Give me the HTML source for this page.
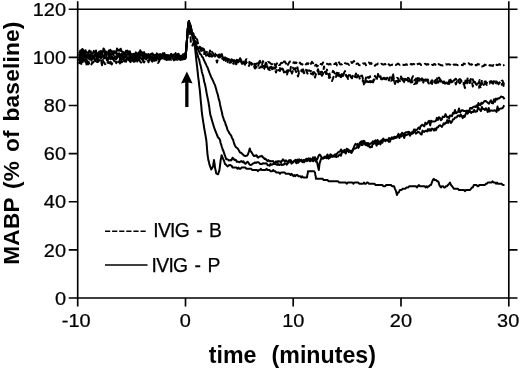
<!DOCTYPE html>
<html><head><meta charset="utf-8"><title>MABP chart</title>
<style>
html,body{margin:0;padding:0;background:#fff;}
body{width:520px;height:370px;overflow:hidden;}
svg{display:block;font-family:"Liberation Sans",Arial,sans-serif;}
.ax path{stroke:#000;stroke-width:1.65;fill:none;}
.cv polyline{stroke:#000;stroke-width:2.0;fill:none;stroke-linejoin:round;}
.tk text{font-size:19.1px;fill:#000;stroke:#000;stroke-width:0.25px;}
.ttl{font-size:22.7px;font-weight:bold;fill:#000;}
.lg text{font-size:19.3px;letter-spacing:-0.7px;word-spacing:2.5px;fill:#000;stroke:#000;stroke-width:0.25px;}
</style></head><body>
<svg width="520" height="370" viewBox="0 0 520 370">
<rect width="520" height="370" fill="#fff"/>
<g class="ax">
<path d="M77.7 1.2V306.5 M508.8 1.2V306.5 M68.7 9.2H517.5 M68.7 298.0H517.5"/>
<path d="M68.7 249.9H77.7 M508.8 249.9H517.5 M68.7 201.7H77.7 M508.8 201.7H517.5 M68.7 153.6H77.7 M508.8 153.6H517.5 M68.7 105.5H77.7 M508.8 105.5H517.5 M68.7 57.3H77.7 M508.8 57.3H517.5 M185.5 1.2V9.2 M185.5 298.0V306.5 M293.2 1.2V9.2 M293.2 298.0V306.5 M401.0 1.2V9.2 M401.0 298.0V306.5"/>
</g>
<g class="cv">
<polyline points="78.8,60.9 79.5,57.8 80.3,57.0 81.0,55.9 81.8,58.8 82.5,54.3 83.3,59.8 84.0,57.2 84.8,58.3 85.5,57.6 86.3,60.3 87.0,55.2 87.8,56.6 88.5,56.9 89.3,59.5 90.0,56.6 90.8,57.2 91.5,56.3 92.3,57.5 93.0,58.7 93.8,56.4 94.5,59.3 95.3,59.7 96.0,59.2 96.8,59.7 97.5,57.3 98.3,57.5 99.0,56.3 99.8,57.0 100.5,58.4 101.3,56.9 102.0,57.0 102.8,56.5 103.5,56.1 104.3,56.3 105.0,57.3 105.8,56.0 106.5,57.6 107.3,60.3 108.0,59.7 108.8,58.1 109.5,56.5 110.3,56.3 111.0,59.9 111.8,58.5 112.5,57.0 113.3,57.8 114.0,60.9 114.8,58.9 115.5,59.0 116.3,58.5 117.0,57.5 117.8,56.0 118.5,56.7 119.3,57.1 120.0,58.4 120.8,59.1 121.5,59.4 122.3,58.6 123.0,59.2 123.8,57.1 124.5,59.3 125.3,58.9 126.0,57.6 126.8,58.3 127.5,57.8 128.3,59.2 129.1,60.2 129.8,61.4 130.6,56.9 131.3,55.5 132.1,56.3 132.8,57.5 133.6,58.7 134.3,58.4 135.1,55.2 135.8,56.5 136.6,58.4 137.3,58.1 138.1,58.7 138.8,57.7 139.6,57.3 140.3,57.8 141.1,58.2 141.8,58.0 142.6,57.8 143.3,56.8 144.1,57.8 144.8,57.8 145.6,59.0 146.3,59.5 147.1,58.3 147.8,57.3 148.6,56.7 149.3,57.8 150.1,57.7 150.8,57.2 151.6,57.5 152.3,56.7 153.1,58.1 153.8,57.1 154.6,58.8 155.3,58.4 156.1,58.4 156.8,56.5 157.6,57.4 158.3,58.3 159.1,56.6 159.8,56.9 160.6,57.3 161.3,55.9 162.1,57.3 162.8,58.3 163.6,56.7 164.3,57.6 165.1,56.0 165.8,57.0 166.6,55.5 167.3,58.1 168.1,58.0 168.8,57.6 169.6,56.6 170.3,58.5 171.1,59.8 171.8,56.1 172.6,58.3 173.3,59.3 174.1,58.3 174.8,56.4 175.6,57.9 176.3,57.3 177.1,56.7 177.8,55.9 178.6,57.5 179.3,58.2 180.1,56.9 180.8,57.7 181.6,56.3 182.3,57.8 183.1,57.5 183.8,57.2 184.6,57.2 185.3,58.1 185.6,57.5 185.8,54.9 186.0,52.3 186.2,49.8 186.4,47.2 186.6,44.6 186.8,42.0 187.0,39.5 187.2,37.0 187.4,34.5 187.6,32.0 187.8,29.5 188.0,27.0 188.4,24.1 188.9,21.3 190.6,30.3 191.3,30.7 192.1,32.4 192.8,33.7 193.7,35.8 194.5,36.5 195.4,37.3 196.3,40.8 197.1,39.4 198.0,44.0 199.0,46.5 200.0,46.9 201.0,48.5 202.0,48.3 203.0,48.5 204.0,52.0 205.0,52.2 206.0,55.1 207.0,57.4 208.0,55.7 209.0,54.6 210.0,56.4 211.0,52.4 212.0,51.7 213.0,53.2 214.0,54.7 215.0,55.2 216.0,55.7 217.0,56.9 218.0,56.5 218.9,57.4 219.9,57.4 220.9,56.4 221.8,55.8 222.8,55.4 223.8,57.6 224.7,57.7 225.7,60.9 226.6,59.9 227.6,62.2 228.6,59.0 229.5,59.6 230.5,58.0 231.5,59.2 232.4,61.2 233.4,60.4 234.4,60.4 235.3,61.5 236.3,64.3 237.2,61.4 238.2,60.2 239.2,60.4 240.1,61.3 241.1,60.9 242.1,62.3 243.0,63.7 244.0,61.5 245.0,64.7 246.0,61.7 247.0,63.0 248.0,63.3 249.0,65.9 250.0,63.4 251.0,63.4 252.0,64.0 253.0,64.9 254.0,63.7 255.0,66.1 256.0,62.9 257.0,62.0 258.0,63.0 259.0,62.2 260.0,60.9 261.0,64.5 262.0,65.1 263.0,61.1 264.0,63.8 265.0,65.2 266.0,62.7 267.0,64.9 268.0,62.0 269.0,62.2 270.0,62.8 271.0,63.9 272.0,64.2 273.0,64.1 274.0,62.6 275.0,65.2 276.0,65.0 277.0,63.4 278.0,62.7 279.0,65.0 280.0,64.9 281.0,62.9 282.0,62.8 283.0,64.5 284.0,61.4 285.0,61.6 286.0,63.6 287.0,62.1 288.0,64.9 289.0,62.7 290.0,61.5 291.0,61.1 292.0,62.6 293.0,62.7 294.0,62.3 295.0,63.2 296.0,62.4 297.0,63.4 298.0,64.2 299.0,64.2 300.0,62.6 301.0,64.2 302.0,64.0 303.0,64.7 304.0,65.1 305.0,63.8 306.0,64.5 307.0,63.2 308.0,64.1 309.0,62.0 310.0,63.7 311.0,63.7 312.0,61.8 313.0,63.3 314.0,62.9 315.0,65.6 316.0,64.6 317.0,66.4 318.0,65.5 319.0,63.5 320.0,63.9 321.0,64.0 322.0,64.7 323.0,62.5 324.0,63.0 325.0,62.8 326.0,63.6 327.0,63.8 328.0,64.1 329.0,64.5 330.0,63.8 331.0,64.5 332.0,63.7 333.0,63.3 334.0,63.9 335.0,64.0 336.0,62.9 337.0,65.4 338.0,63.5 339.0,62.3 340.0,64.2 341.0,64.4 342.0,64.3 343.0,63.5 344.0,62.4 345.0,63.1 346.0,63.5 347.0,63.7 348.0,63.8 349.0,64.9 350.0,63.3 351.0,62.1 352.0,62.9 353.0,62.1 354.0,61.0 355.0,64.0 356.0,64.1 357.0,63.5 358.0,63.5 359.0,65.1 360.0,65.3 361.0,65.2 362.0,64.7 363.0,63.5 364.0,63.7 365.0,63.2 366.0,65.2 367.0,63.7 368.0,63.0 369.0,62.5 370.0,64.0 371.0,62.9 372.0,64.0 373.0,64.3 374.0,64.0 375.0,65.7 376.0,64.4 377.0,64.6 378.0,63.5 379.0,63.4 380.0,64.3 381.0,63.8 382.0,64.0 383.0,64.6 384.0,64.4 385.0,64.0 386.0,64.2 387.0,63.0 388.0,63.6 389.0,64.6 390.0,65.4 391.0,65.1 392.0,64.7 393.0,64.6 394.0,64.0 395.0,64.7 396.0,65.0 397.0,64.3 398.0,63.6 399.0,64.3 400.0,65.0 401.0,64.4 402.0,64.6 403.0,64.7 404.0,65.0 405.0,64.9 406.0,64.2 407.0,64.8 408.0,64.5 409.0,64.5 410.0,65.0 411.0,63.8 412.0,64.6 413.0,64.0 414.0,64.0 415.0,64.9 416.0,65.3 417.0,64.4 418.0,64.0 419.0,63.6 419.9,63.7 420.9,65.0 421.9,64.8 422.9,64.2 423.9,64.4 424.9,63.8 425.9,64.2 426.9,64.8 427.9,64.0 428.9,64.8 429.9,65.5 430.9,65.4 431.9,64.7 432.9,65.1 433.9,64.3 434.9,64.0 435.9,65.5 436.9,64.3 437.9,64.1 438.8,64.3 439.8,64.6 440.8,65.3 441.8,65.3 442.8,65.6 443.8,65.4 444.8,65.1 445.8,64.2 446.8,64.6 447.8,64.3 448.8,64.2 449.8,64.4 450.8,65.6 451.8,65.6 452.8,65.6 453.8,64.5 454.8,64.7 455.8,64.6 456.8,64.8 457.7,65.2 458.7,64.9 459.7,64.9 460.7,65.1 461.7,65.1 462.7,65.3 463.7,63.6 464.7,63.8 465.7,64.3 466.7,64.1 467.7,64.0 468.7,63.2 469.7,64.5 470.7,64.5 471.7,64.2 472.7,65.5 473.7,64.9 474.7,65.3 475.7,65.1 476.6,65.3 477.6,64.0 478.6,64.4 479.6,64.5 480.6,65.1 481.6,66.4 482.6,66.2 483.6,66.1 484.6,64.6 485.6,64.9 486.6,64.8 487.6,64.1 488.6,64.8 489.6,65.4 490.6,65.3 491.6,65.5 492.6,65.9 493.6,65.1 494.6,66.0 495.5,64.9 496.5,64.8 497.5,64.9 498.5,64.7 499.5,64.1 500.5,65.2 501.5,66.0 502.5,65.6 503.5,65.3 504.5,64.9" stroke-dasharray="5.8 2.6"/>
<polyline points="78.8,62.9 79.5,63.2 80.3,60.3 81.0,64.8 81.8,61.2 82.5,61.5 83.3,63.5 84.0,61.6 84.8,61.2 85.5,61.3 86.3,63.4 87.0,66.4 87.8,64.1 88.5,61.8 89.3,63.4 90.0,62.3 90.8,62.7 91.5,64.5 92.3,62.3 93.0,62.7 93.8,61.6 94.5,62.2 95.3,63.0 96.0,61.5 96.8,61.9 97.5,62.1 98.3,61.6 99.0,60.7 99.8,60.1 100.5,61.6 101.3,61.9 102.0,65.3 102.8,60.1 103.5,61.8 104.3,62.7 105.0,64.2 105.8,63.5 106.5,61.5 107.3,62.0 108.0,62.9 108.8,62.0 109.5,63.1 110.3,60.0 111.0,63.7 111.8,64.4 112.5,62.3 113.3,62.9 114.0,62.3 114.8,61.0 115.5,61.7 116.3,63.1 117.0,61.7 117.8,61.3 118.5,61.5 119.3,62.2 120.0,63.4 120.8,61.4 121.5,62.2 122.3,62.0 123.0,59.4 123.8,60.4 124.5,61.0 125.3,61.3 126.0,61.8 126.8,59.0 127.5,60.7 128.3,60.3 129.1,59.3 129.8,61.3 130.6,62.1 131.3,60.7 132.1,62.0 132.8,60.9 133.6,61.1 134.3,59.8 135.1,62.5 135.8,58.3 136.6,60.1 137.3,61.5 138.1,58.7 138.8,60.0 139.6,60.5 140.3,61.7 141.1,62.5 141.8,60.8 142.6,59.1 143.3,61.8 144.1,62.4 144.8,60.6 145.6,61.0 146.3,61.1 147.1,61.3 147.8,60.9 148.6,62.2 149.3,59.0 150.1,61.1 150.8,61.0 151.6,60.3 152.3,61.6 153.1,58.1 153.8,60.8 154.6,60.8 155.3,59.1 156.1,60.3 156.8,59.8 157.6,62.8 158.3,62.8 159.1,61.3 159.8,59.6 160.6,59.2 161.3,59.3 162.1,59.1 162.8,58.6 163.6,58.8 164.3,59.2 165.1,59.0 165.8,58.7 166.6,58.4 167.3,61.9 168.1,58.7 168.8,58.3 169.6,59.6 170.3,59.2 171.1,59.8 171.8,60.3 172.6,60.9 173.3,60.6 174.1,58.7 174.8,60.2 175.6,57.8 176.3,58.7 177.1,58.5 177.8,57.9 178.6,59.3 179.3,59.0 180.1,60.0 180.8,57.9 181.6,59.5 182.3,59.6 183.1,59.2 183.8,57.6 184.6,58.2 185.3,57.2 185.6,57.5 185.8,54.9 186.0,52.3 186.2,49.8 186.4,47.2 186.6,44.6 186.8,42.0 187.0,39.5 187.2,37.0 187.4,34.5 187.6,32.0 187.8,29.5 188.0,27.0 188.4,24.1 188.9,21.3 190.0,32.7 190.2,34.9 190.4,37.5 190.6,37.2 190.8,41.8 191.0,43.2 191.3,43.7 191.5,44.6 192.4,45.6 193.3,43.2 194.2,47.2 195.1,47.6 196.0,47.3 197.0,46.5 198.0,47.2 199.0,50.0 200.0,47.3 201.0,49.5 202.0,49.8 203.0,51.1 204.0,54.0 205.0,54.0 206.0,52.2 207.0,51.9 208.0,54.3 209.0,54.3 210.0,50.5 211.0,53.6 212.0,55.6 213.0,55.5 214.0,55.2 215.0,56.2 216.0,57.9 217.0,62.5 218.0,58.3 218.9,57.4 219.9,54.5 220.9,58.8 221.8,59.0 222.8,57.6 223.8,60.1 224.7,56.9 225.7,59.6 226.6,58.6 227.6,61.9 228.6,62.0 229.5,62.7 230.5,61.3 231.5,59.3 232.4,62.2 233.4,63.8 234.4,61.0 235.3,59.2 236.3,61.6 237.2,61.7 238.2,62.3 239.2,60.6 240.1,63.5 241.1,60.8 242.1,64.5 243.0,63.2 244.0,63.0 245.0,62.9 246.0,59.5 247.0,59.3 248.0,59.8 249.0,61.4 250.0,63.1 251.0,63.1 252.0,63.4 253.0,65.3 254.0,67.0 255.0,66.1 256.0,63.7 257.0,63.4 258.0,66.6 259.0,63.1 260.0,62.5 261.0,64.9 262.0,66.6 263.0,65.9 264.0,66.2 265.0,67.2 266.0,65.7 267.0,65.0 268.0,68.8 269.0,69.8 270.0,69.9 271.0,66.7 272.0,67.3 273.0,68.6 274.0,67.3 275.0,69.1 276.0,72.6 277.0,69.1 278.0,68.6 279.0,68.9 280.0,68.1 281.0,69.1 282.0,68.5 283.0,69.6 284.0,69.4 285.0,72.0 286.0,72.3 287.0,70.4 288.0,70.2 289.0,71.5 290.0,72.5 291.0,65.8 292.0,67.8 293.0,67.8 294.0,69.5 295.0,69.1 296.0,68.0 297.0,65.9 298.0,69.8 299.0,72.0 300.0,70.7 301.0,71.1 302.0,69.8 303.0,69.4 304.0,72.2 305.0,72.2 306.0,69.9 307.0,72.5 308.0,74.7 309.0,73.7 310.0,73.6 311.0,73.6 312.0,74.1 313.0,72.3 314.0,74.7 315.0,77.5 316.0,73.9 317.0,72.5 318.0,69.2 319.0,72.3 320.0,72.1 321.0,72.9 322.0,75.8 323.0,74.1 324.0,66.4 325.0,71.8 326.0,72.3 327.0,69.6 328.0,72.5 329.0,76.3 330.0,77.2 331.0,79.0 332.0,81.0 333.0,78.4 334.0,75.4 335.0,76.6 336.0,77.0 337.0,71.4 338.0,75.7 339.0,72.0 340.0,76.3 341.0,77.2 342.0,76.0 343.0,77.2 344.0,73.0 345.0,71.1 346.0,75.6 347.0,76.9 348.0,76.8 349.0,75.0 350.0,74.7 351.0,76.2 352.0,78.3 353.0,74.4 354.0,75.5 355.0,77.0 356.0,73.6 357.0,72.4 358.0,75.7 359.0,76.4 360.0,79.6 361.0,80.5 362.0,80.8 363.0,80.2 364.0,84.4 365.0,82.1 366.0,77.6 367.0,78.0 368.0,82.0 369.0,81.9 370.0,81.0 371.0,83.4 372.0,81.4 373.0,82.4 374.0,79.4 375.0,80.0 376.0,80.8 377.0,77.7 378.0,74.7 379.0,73.8 380.0,74.6 381.0,79.0 382.0,78.2 383.0,79.1 384.0,77.6 385.0,78.1 386.0,79.4 387.0,77.7 388.0,78.0 389.0,78.3 390.0,77.5 391.0,77.7 392.0,79.2 393.0,73.3 394.0,79.9 395.0,84.0 396.0,80.9 397.0,77.9 398.0,78.3 399.0,80.4 400.0,81.2 401.0,76.4 402.0,78.6 403.0,78.8 404.0,82.3 405.0,78.7 406.0,80.4 407.0,78.3 408.0,77.8 409.0,78.5 410.0,81.0 411.0,82.6 412.0,78.1 413.0,76.2 414.0,76.5 415.0,80.6 416.0,78.6 417.0,82.8 418.0,76.1 419.0,78.4 420.0,79.5 421.0,79.3 422.0,80.2 423.0,83.5 424.0,80.2 425.0,80.0 426.0,79.4 427.0,77.7 428.0,82.3 429.0,83.5 430.0,81.3 431.0,81.2 432.0,84.0 433.0,80.1 434.0,81.0 435.0,82.6 436.0,79.0 437.0,79.1 438.0,79.3 439.0,77.6 440.0,79.2 441.0,80.5 442.0,79.2 443.0,82.9 444.0,83.0 445.0,83.3 446.0,83.2 447.0,85.4 448.0,82.7 449.0,81.6 450.0,77.8 451.0,81.6 452.0,81.1 453.0,81.5 454.0,82.0 455.0,81.3 455.9,84.4 456.9,81.6 457.9,79.1 458.9,80.0 459.9,79.0 460.9,80.0 461.9,81.7 462.9,82.6 463.9,84.1 464.9,88.0 465.9,81.6 466.8,81.3 467.8,83.2 468.8,81.6 469.8,82.8 470.8,79.0 471.8,80.9 472.8,86.6 473.8,83.1 474.8,81.7 475.8,84.0 476.8,85.0 477.7,87.2 478.7,87.7 479.7,85.3 480.7,88.2 481.7,80.9 482.7,81.7 483.7,84.9 484.7,83.8 485.7,83.6 486.7,84.9 487.7,84.0 488.6,83.4 489.6,83.6 490.6,81.6 491.6,81.3 492.6,85.2 493.6,81.2 494.6,81.8 495.6,81.6 496.6,83.6 497.6,82.9 498.6,84.3 499.5,82.3 500.5,83.4 501.5,81.0 502.5,80.6 503.5,83.3 504.5,85.2" stroke-dasharray="5.8 2.6"/>
<polyline points="78.8,63.7 79.5,62.2 80.3,61.1 81.0,57.5 81.8,59.1 82.5,59.4 83.3,60.0 84.0,59.2 84.8,59.9 85.5,59.4 86.3,57.9 87.0,61.0 87.8,62.0 88.5,63.6 89.3,61.3 90.0,59.9 90.8,59.2 91.5,57.4 92.3,60.9 93.0,58.6 93.8,57.8 94.5,59.1 95.3,62.2 96.0,61.1 96.8,58.7 97.5,58.5 98.3,60.6 99.0,59.9 99.8,58.8 100.5,59.3 101.3,60.9 102.0,63.3 102.8,59.0 103.5,58.7 104.3,58.3 105.0,55.7 105.8,57.2 106.5,57.5 107.3,60.8 108.0,59.9 108.8,57.4 109.5,60.0 110.3,59.3 111.0,57.0 111.8,58.0 112.5,58.3 113.3,58.0 114.0,59.2 114.8,56.2 115.5,58.2 116.3,60.7 117.0,61.1 117.8,61.6 118.5,61.8 119.3,62.3 120.0,58.8 120.8,60.5 121.5,57.2 122.3,57.9 123.0,56.3 123.8,60.0 124.5,61.4 125.3,59.7 126.0,61.9 126.8,59.2 127.5,59.5 128.3,59.6 129.1,57.9 129.8,59.5 130.6,61.9 131.3,58.7 132.1,60.3 132.8,59.3 133.6,61.6 134.3,60.5 135.1,60.5 135.8,60.4 136.6,59.8 137.3,57.5 138.1,60.4 138.8,57.7 139.6,59.0 140.3,59.8 141.1,58.2 141.8,58.9 142.6,60.4 143.3,59.4 144.1,58.0 144.8,55.0 145.6,56.5 146.3,57.5 147.1,57.8 147.8,57.4 148.6,58.9 149.3,58.1 150.1,58.5 150.8,59.5 151.6,58.0 152.3,58.2 153.1,61.1 153.8,60.5 154.6,57.7 155.3,58.3 156.1,59.2 156.8,60.3 157.6,59.3 158.3,58.2 159.1,57.6 159.8,59.0 160.6,59.1 161.3,58.1 162.1,58.2 162.8,58.0 163.6,59.1 164.3,57.9 165.1,58.8 165.8,59.5 166.6,59.3 167.3,57.8 168.1,59.7 168.8,58.0 169.6,58.7 170.3,57.6 171.1,56.3 171.8,57.9 172.6,58.5 173.3,58.2 174.1,58.5 174.8,57.6 175.6,57.3 176.3,57.8 177.1,60.0 177.8,59.5 178.6,58.0 179.3,58.7 180.1,57.8 180.8,57.5 181.6,58.8 182.3,57.7 183.1,56.3 183.8,56.6 184.6,57.7 185.3,58.0 185.6,57.5 185.8,54.9 186.0,52.3 186.2,49.8 186.4,47.2 186.6,44.6 186.8,42.0 187.0,39.5 187.2,37.0 187.4,34.5 187.6,32.0 187.8,29.5 188.0,27.0 188.4,24.1 188.9,21.3 190.3,25.0 191.0,27.8 191.8,31.1 192.5,32.5 193.4,33.4 194.3,40.0 195.2,41.2 196.1,42.7 197.1,42.3 198.0,43.7 199.0,46.8 200.0,47.9 201.0,50.3 202.0,52.7 203.0,50.0 204.0,49.2 205.0,52.5 206.0,52.4 207.0,53.6 208.0,55.3 209.0,56.1 210.0,52.1 211.0,54.2 212.0,56.6 213.0,55.3 214.0,54.0 215.0,53.5 216.0,55.3 217.0,55.0 218.0,55.6 218.9,54.6 219.9,56.5 220.9,55.6 221.8,54.1 222.8,57.6 223.8,56.8 224.7,57.2 225.7,58.2 226.6,58.3 227.6,59.2 228.6,60.4 229.5,62.6 230.5,62.7 231.5,61.7 232.4,59.8 233.4,60.5 234.4,61.2 235.3,63.8 236.3,61.8 237.2,58.6 238.2,59.6 239.2,60.3 240.1,58.2 241.1,60.2 242.1,61.3 243.0,62.7 244.0,62.3 245.0,63.6 246.0,62.0 247.0,63.3 248.0,64.6 249.0,63.8 250.0,62.8 251.0,62.8 252.0,65.5 253.0,67.4 254.0,66.9 255.0,68.5 256.0,66.7 257.0,67.4 258.0,66.4 259.0,67.8 260.0,67.7 261.0,66.5 262.0,66.5 263.0,69.7 264.0,69.3 265.0,66.1 266.0,66.2 267.0,66.9 268.0,66.9 269.0,68.6 270.0,67.2 271.0,68.2 272.0,68.9 273.0,70.6 274.0,68.0 275.0,68.7 276.0,66.6 277.0,69.4 278.0,70.2 279.0,70.1 280.0,70.9 281.0,67.8 282.0,69.9 283.0,69.2 284.0,72.4 285.0,71.7 286.0,73.8 287.0,74.5 288.0,71.5 289.0,70.1 290.0,69.6 291.0,71.1 292.0,73.5 293.0,71.0 294.0,70.7 295.0,68.3 296.0,72.1 297.0,72.1 298.0,76.4 299.0,72.5 300.0,71.7 301.0,70.5 302.0,71.6 303.0,71.5 304.0,73.2 305.0,72.2 306.0,71.5 307.0,70.2 308.0,70.8 309.0,70.3 310.0,70.9 311.0,70.9 312.0,72.9 313.0,74.6 314.0,72.1 315.0,73.5 316.0,73.8 317.0,71.8 318.0,70.8 319.0,75.2 320.0,76.2 321.0,71.8 322.0,71.8 323.0,73.7 324.0,73.6 325.0,71.9 326.0,73.9 327.0,73.4 328.0,76.8 329.0,77.9 330.0,73.6 331.0,73.9 332.0,73.4 333.0,70.9 334.0,72.0 335.0,74.1 336.0,72.5 337.0,74.8 338.0,75.0 339.0,75.0 340.0,77.8 341.0,74.8 342.0,74.1 343.0,75.9 344.0,75.5 345.0,76.5 346.0,74.9 347.0,76.3 348.0,78.9 349.0,75.8 350.0,75.0 351.0,77.3 352.0,77.4 353.0,75.9 354.0,75.5 355.0,75.7 356.0,77.2 357.0,77.4 358.0,75.1 359.0,75.5 360.0,75.1 361.0,75.9 362.0,75.6 363.0,78.9 364.0,79.8 365.0,82.7 366.0,81.3 367.0,81.8 368.0,77.0 369.0,77.9 370.0,76.2 371.0,81.9 372.0,81.8 373.0,81.8 374.0,77.9 375.0,75.9 376.0,77.6 377.0,78.6 378.0,74.1 379.0,76.6 380.0,76.9 381.0,76.1 382.0,79.4 383.0,79.0 384.0,77.7 385.0,79.2 386.0,79.5 387.0,79.4 388.0,79.2 389.0,80.5 390.0,77.3 391.0,80.8 392.0,80.2 393.0,79.3 394.0,80.9 395.0,79.7 396.0,81.4 397.0,80.7 398.0,82.3 399.0,78.8 400.0,77.7 401.0,78.9 402.0,79.1 403.0,80.7 404.0,81.1 405.0,82.2 406.0,80.9 407.0,79.0 408.0,80.6 409.0,83.2 410.0,80.7 411.0,82.5 412.0,82.2 413.0,81.2 414.0,84.1 415.0,83.7 416.0,82.0 417.0,84.6 418.0,79.4 419.0,79.7 420.0,80.9 421.0,80.3 422.0,78.4 423.0,80.5 424.0,79.6 425.0,82.6 426.0,79.6 427.0,80.4 428.0,79.7 429.0,82.5 430.0,82.3 431.0,82.9 432.0,80.2 433.0,81.4 434.0,79.8 435.0,80.2 436.0,83.2 437.0,78.2 438.0,82.4 439.0,84.1 440.0,80.0 441.0,81.6 442.0,81.1 443.0,79.6 444.0,81.6 445.0,83.5 446.0,82.9 447.0,81.5 448.0,82.9 449.0,84.0 450.0,82.3 451.0,81.9 452.0,82.3 453.0,83.4 454.0,80.2 455.0,79.3 455.9,78.7 456.9,81.0 457.9,79.6 458.9,82.2 459.9,83.3 460.9,81.8 461.9,82.4 462.9,83.5 463.9,82.7 464.9,83.1 465.9,79.2 466.8,82.2 467.8,77.5 468.8,79.8 469.8,82.9 470.8,80.4 471.8,81.4 472.8,79.3 473.8,82.2 474.8,82.5 475.8,84.2 476.8,84.0 477.7,83.4 478.7,83.3 479.7,79.9 480.7,84.4 481.7,82.6 482.7,83.7 483.7,81.1 484.7,81.9 485.7,81.4 486.7,83.3 487.7,81.6 488.6,82.6 489.6,81.8 490.6,81.4 491.6,82.2 492.6,82.1 493.6,83.8 494.6,84.7 495.6,84.0 496.6,81.5 497.6,82.8 498.6,83.5 499.5,83.8 500.5,84.9 501.5,84.7 502.5,83.5 503.5,85.9 504.5,82.8" stroke-dasharray="5.8 2.6"/>
<polyline points="78.8,52.1 79.5,53.0 80.3,50.5 81.0,52.9 81.8,51.6 82.5,49.0 83.3,50.0 84.0,52.6 84.8,53.0 85.5,50.3 86.3,52.8 87.0,52.3 87.8,53.1 88.5,53.2 89.3,50.5 90.0,52.5 90.8,51.3 91.5,54.9 92.3,54.5 93.0,53.2 93.8,50.9 94.5,52.1 95.3,52.7 96.0,50.5 96.8,55.8 97.5,54.2 98.3,56.0 99.0,51.7 99.8,55.1 100.5,51.0 101.3,51.0 102.0,53.0 102.8,52.7 103.5,48.5 104.3,49.4 105.0,52.9 105.8,55.9 106.5,54.8 107.3,52.5 108.0,53.5 108.8,50.5 109.5,52.3 110.3,49.7 111.0,51.0 111.8,51.1 112.5,52.6 113.3,51.2 114.0,53.1 114.8,51.4 115.5,52.5 116.3,52.6 117.0,48.5 117.8,50.2 118.5,50.7 119.3,49.6 120.0,50.8 120.8,48.7 121.5,51.2 122.3,51.9 123.0,51.8 123.8,55.2 124.5,53.1 125.3,52.1 126.0,50.7 126.8,52.0 127.5,50.6 128.3,53.6 129.1,51.8 129.8,52.5 130.6,55.5 131.3,55.3 132.1,54.0 132.8,55.3 133.6,53.8 134.3,54.6 135.1,53.8 135.8,52.3 136.6,53.8 137.3,55.0 138.1,53.7 138.8,52.3 139.6,52.7 140.3,50.3 141.1,52.1 141.8,52.0 142.6,56.2 143.3,54.0 144.1,52.1 144.8,54.7 145.6,54.2 146.3,54.3 147.1,54.5 147.8,54.7 148.6,54.0 149.3,55.5 150.1,55.4 150.8,54.1 151.6,54.1 152.3,53.2 153.1,54.5 153.8,55.4 154.6,55.6 155.3,55.7 156.1,54.8 156.8,56.6 157.6,55.0 158.3,54.8 159.1,54.3 159.8,54.7 160.6,54.5 161.3,57.1 162.1,56.0 162.8,53.2 163.6,53.9 164.3,53.0 165.1,55.3 165.8,56.6 166.6,55.0 167.3,55.7 168.1,55.0 168.8,55.5 169.6,57.1 170.3,55.3 171.1,53.8 171.8,55.5 172.6,55.8 173.3,56.1 174.1,56.6 174.8,54.9 175.6,53.1 176.3,55.7 177.1,55.0 177.8,54.0 178.6,53.8 179.3,56.1 180.1,55.8 180.8,55.9 181.6,56.4 182.3,55.1 183.1,54.3 183.8,54.4 184.6,54.1 185.3,54.9 185.6,57.5 185.8,54.9 186.0,52.3 186.2,49.8 186.4,47.2 186.6,44.6 186.8,42.0 187.0,39.5 187.2,37.0 187.4,34.5 187.6,32.0 187.8,29.5 188.0,27.0 188.4,24.1 188.9,21.3 190.5,25.8 191.0,27.9 191.5,30.1 192.0,32.8 192.5,35.3 193.0,37.4 193.5,40.7 194.0,42.9 194.5,45.1 195.0,47.6 195.3,50.4 195.5,52.6 195.8,54.5 196.0,57.1 196.3,60.0 196.6,62.4 196.9,65.2 197.2,67.4 197.4,70.0 197.7,72.2 198.0,75.2 198.3,78.1 198.6,79.8 198.9,82.2 199.1,84.6 199.4,87.0 199.7,89.4 200.0,92.1 200.3,95.5 200.6,98.8 200.8,101.3 201.1,104.1 201.4,107.3 201.6,110.3 201.9,112.5 202.2,115.1 202.6,117.9 203.0,120.4 203.3,122.4 203.7,124.6 204.1,127.6 204.5,129.8 204.9,132.1 205.4,134.7 205.8,137.2 206.2,139.5 206.5,142.0 206.7,144.6 206.9,147.0 207.1,149.9 207.3,151.6 207.5,154.7 208.0,157.6 208.4,160.3 208.9,161.9 209.4,164.4 210.3,166.8 211.2,169.5 212.2,168.0 213.1,166.3 213.4,164.0 213.7,162.1 214.0,160.1 214.3,162.1 214.7,164.6 215.0,167.8 215.6,170.2 216.2,173.4 217.2,174.0 218.1,174.2 218.8,171.9 219.4,170.4 219.7,168.0 220.0,165.6 220.3,163.2 220.6,160.7 220.9,159.0 221.3,157.1 221.6,155.2 222.3,156.9 223.1,158.9 224.1,161.0 225.0,164.0 225.8,164.4 226.7,165.6 227.5,166.4 228.3,165.7 229.2,165.2 230.0,164.9 230.8,165.3 231.7,165.8 232.5,167.5 233.5,167.5 234.5,167.5 235.5,167.5 236.5,167.5 237.5,168.8 238.5,167.5 239.5,168.8 240.5,168.8 241.5,167.5 242.5,167.5 243.5,167.5 244.4,167.5 245.4,167.5 246.3,168.8 247.3,168.8 248.3,168.8 249.2,168.8 250.2,168.8 251.2,168.8 252.1,170.0 253.1,170.0 254.0,170.0 255.0,170.0 256.0,170.0 256.9,170.0 257.9,171.2 258.8,170.0 259.8,170.0 260.8,168.8 261.7,170.0 262.7,170.0 263.7,170.0 264.6,170.0 265.6,170.0 266.5,168.8 267.5,170.0 268.5,170.0 269.4,170.0 270.4,171.2 271.3,171.2 272.3,171.2 273.3,170.0 274.2,171.2 275.2,171.2 276.2,172.5 277.1,172.5 278.1,172.5 279.0,172.5 280.0,173.8 281.0,172.5 281.9,172.5 282.9,172.5 283.8,172.5 284.8,172.5 285.8,173.8 286.7,173.8 287.7,173.8 288.7,173.8 289.6,173.8 290.6,175.0 291.5,173.8 292.5,175.0 293.5,176.2 294.4,175.0 295.4,176.2 296.3,175.0 297.3,175.0 298.3,176.2 299.2,176.2 300.2,176.2 301.2,177.5 302.1,176.2 303.1,177.5 304.0,177.5 305.0,177.5 306.0,177.5 307.0,177.5 307.3,175.0 307.7,173.8 308.0,171.2 309.0,171.2 310.0,171.2 311.0,171.2 312.0,171.2 313.0,171.2 314.0,171.2 315.0,172.5 315.3,175.0 315.7,176.2 316.0,178.8 317.0,178.8 317.9,178.8 318.9,178.8 319.8,178.8 320.8,178.8 321.8,178.8 322.7,178.8 323.7,180.0 324.6,180.0 325.6,180.0 326.5,180.0 327.5,180.0 328.5,181.2 329.4,181.2 330.4,181.2 331.3,181.2 332.3,181.2 333.3,181.2 334.2,181.2 335.2,181.2 336.2,181.2 337.1,181.2 338.1,181.2 339.0,182.5 340.0,182.5 341.0,182.5 341.9,182.5 342.9,182.5 343.8,182.5 344.8,182.5 345.8,182.5 346.7,183.8 347.7,182.5 348.7,182.5 349.6,182.5 350.6,182.5 351.5,182.5 352.5,182.5 353.5,183.8 354.4,182.5 355.4,182.5 356.3,182.5 357.3,182.5 358.3,182.5 359.2,183.8 360.2,183.8 361.2,183.8 362.1,183.8 363.1,183.8 364.0,182.5 365.0,183.8 366.0,183.8 366.9,182.5 367.9,182.5 368.8,183.8 369.8,183.8 370.8,183.8 371.7,183.8 372.7,183.8 373.7,183.8 374.6,183.8 375.6,185.0 376.5,185.0 377.5,185.0 378.5,185.0 379.4,185.0 380.4,185.0 381.3,185.0 382.3,185.0 383.3,186.2 384.2,186.2 385.2,186.2 386.2,185.0 387.1,185.0 388.1,185.0 389.0,185.0 390.0,185.0 391.0,185.0 392.0,186.2 393.0,186.2 394.0,186.2 395.0,188.8 396.0,191.2 397.0,195.0 397.9,192.5 398.8,192.5 399.8,190.0 400.7,190.0 401.6,190.0 402.5,188.8 403.5,188.8 404.4,188.8 405.4,188.8 406.3,187.5 407.3,187.5 408.3,187.5 409.2,186.2 410.2,186.2 411.2,186.2 412.1,186.2 413.1,186.2 414.0,186.2 415.0,186.2 416.0,186.2 416.9,187.5 417.9,186.2 418.8,185.0 419.8,186.2 420.8,186.2 421.7,186.2 422.7,186.2 423.7,186.2 424.6,186.2 425.6,187.5 426.5,186.2 427.5,187.5 428.4,186.2 429.2,186.2 430.1,185.0 431.0,185.0 431.9,182.5 432.8,180.0 433.8,178.8 434.5,180.0 435.2,180.0 436.0,180.0 437.0,181.2 438.0,181.2 438.7,182.5 439.3,185.0 440.0,186.2 441.0,187.5 442.0,186.2 443.0,186.2 444.0,187.5 445.0,187.5 446.0,186.2 447.0,186.2 448.0,185.0 449.0,183.8 450.0,182.5 451.0,185.0 452.0,186.2 453.0,187.5 454.0,188.8 455.0,188.8 456.0,188.8 457.0,188.8 458.0,188.8 459.0,190.0 460.0,190.0 461.0,190.0 462.0,190.0 463.0,190.0 464.0,190.0 465.0,191.2 466.0,190.0 467.0,190.0 468.0,190.0 469.0,190.0 470.0,190.0 470.9,188.8 471.9,187.5 472.8,187.5 473.8,185.0 474.7,185.0 475.6,185.0 476.6,185.0 477.5,186.2 478.4,186.2 479.4,185.0 480.3,185.0 481.2,185.0 482.2,185.0 483.1,185.0 484.1,185.0 485.0,185.0 485.9,183.8 486.9,183.8 487.8,182.5 488.8,182.5 489.7,182.5 490.6,182.5 491.6,182.5 492.5,181.2 493.4,182.5 494.2,182.5 495.1,182.5 496.0,183.8 497.0,182.5 498.0,183.8 499.0,183.8 500.0,183.8 500.9,183.8 501.8,183.8 502.7,185.0 503.6,185.0 504.5,185.0"/>
<polyline points="78.8,57.8 79.5,56.7 80.3,61.3 81.0,57.8 81.8,57.4 82.5,60.0 83.3,56.3 84.0,55.7 84.8,57.0 85.5,56.4 86.3,54.7 87.0,56.0 87.8,56.1 88.5,57.8 89.3,54.4 90.0,55.0 90.8,58.4 91.5,60.6 92.3,55.5 93.0,57.6 93.8,55.5 94.5,55.1 95.3,55.0 96.0,55.7 96.8,58.3 97.5,58.6 98.3,57.6 99.0,56.6 99.8,56.9 100.5,56.8 101.3,58.2 102.0,56.3 102.8,56.8 103.5,56.8 104.3,56.8 105.0,57.4 105.8,57.4 106.5,59.2 107.3,57.5 108.0,59.6 108.8,57.3 109.5,56.3 110.3,57.0 111.0,57.5 111.8,57.6 112.5,59.2 113.3,59.4 114.0,58.5 114.8,56.9 115.5,56.8 116.3,59.1 117.0,58.0 117.8,55.3 118.5,55.5 119.3,55.7 120.0,58.3 120.8,57.2 121.5,60.4 122.3,59.0 123.0,57.8 123.8,56.6 124.5,58.3 125.3,57.0 126.0,55.8 126.8,57.5 127.5,57.2 128.3,58.7 129.1,57.4 129.8,53.1 130.6,56.9 131.3,54.4 132.1,58.3 132.8,59.9 133.6,57.3 134.3,55.5 135.1,54.6 135.8,57.5 136.6,56.9 137.3,56.2 138.1,56.4 138.8,59.6 139.6,58.2 140.3,58.4 141.1,58.4 141.8,58.8 142.6,58.9 143.3,56.6 144.1,56.6 144.8,55.9 145.6,55.8 146.3,58.1 147.1,56.7 147.8,56.8 148.6,56.1 149.3,56.0 150.1,57.7 150.8,56.7 151.6,56.3 152.3,57.4 153.1,57.7 153.8,58.2 154.6,57.6 155.3,55.1 156.1,57.2 156.8,57.6 157.6,58.4 158.3,56.4 159.1,59.8 159.8,56.4 160.6,57.7 161.3,57.2 162.1,56.5 162.8,57.8 163.6,56.9 164.3,54.3 165.1,54.9 165.8,56.9 166.6,59.4 167.3,56.1 168.1,56.7 168.8,58.5 169.6,58.1 170.3,56.9 171.1,55.5 171.8,54.6 172.6,55.5 173.3,56.2 174.1,54.4 174.8,54.5 175.6,56.6 176.3,56.4 177.1,56.1 177.8,56.3 178.6,56.0 179.3,57.6 180.1,58.8 180.8,59.6 181.6,58.5 182.3,58.2 183.1,58.8 183.8,59.2 184.6,59.1 185.3,58.8 185.6,57.5 185.8,54.9 186.0,52.3 186.2,49.8 186.4,47.2 186.6,44.6 186.8,42.0 187.0,39.5 187.2,37.0 187.4,34.5 187.6,32.0 187.8,29.5 188.0,27.0 188.4,24.1 188.9,21.3 190.5,25.9 191.0,28.2 191.5,30.6 192.0,33.4 192.5,36.3 193.1,38.3 193.8,40.0 194.4,42.7 195.0,44.8 195.7,47.3 196.4,50.6 197.1,53.7 197.8,55.7 198.5,58.1 199.2,59.7 199.9,63.2 200.5,65.3 201.2,68.3 201.8,71.4 202.5,74.0 203.1,75.9 203.7,78.9 204.2,81.8 204.8,83.5 205.4,86.3 206.0,89.4 206.5,92.4 207.0,95.1 207.5,97.4 208.0,99.9 208.5,102.2 208.9,105.5 209.3,107.1 209.6,109.8 210.0,112.6 210.4,115.2 211.1,117.1 211.8,119.9 212.6,122.5 213.3,124.7 214.0,127.2 215.0,130.0 216.0,132.3 217.0,135.0 218.0,137.4 219.0,138.2 220.0,139.9 220.6,143.0 221.3,144.9 221.9,147.1 222.7,149.5 223.6,151.5 224.4,154.2 225.3,156.5 226.2,159.2 227.2,159.3 228.1,159.6 228.9,160.6 229.7,160.4 230.5,160.0 231.2,160.5 231.9,159.3 232.5,157.8 233.4,158.6 234.4,160.0 235.2,159.7 235.9,159.9 236.7,161.8 237.5,161.5 238.5,161.9 239.5,162.3 240.5,161.5 241.5,161.1 242.5,162.1 243.5,161.4 244.5,163.2 245.5,163.8 246.5,162.7 247.5,161.7 248.3,162.5 249.2,164.1 250.0,164.9 251.0,164.9 252.0,164.3 253.0,163.5 254.0,163.1 255.0,162.4 256.0,162.9 257.0,162.2 258.0,162.2 259.0,162.6 260.0,163.9 261.0,164.0 261.9,164.0 262.9,163.2 263.8,163.5 264.8,163.4 265.8,163.3 266.7,163.5 267.7,165.3 268.7,165.2 269.6,165.7 270.6,163.8 271.5,164.8 272.5,164.5 273.4,163.8 274.4,163.9 275.3,163.8 276.2,164.3 277.2,164.9 278.1,163.9 279.1,165.0 280.0,164.7 281.0,164.0 281.9,165.1 282.9,164.6 283.8,164.7 284.8,163.1 285.8,163.6 286.7,164.7 287.7,163.3 288.7,162.5 289.6,160.7 290.6,161.9 291.5,163.6 292.5,162.6 293.5,161.3 294.4,160.8 295.4,160.7 296.3,163.2 297.3,162.5 298.3,162.7 299.2,159.3 300.2,160.5 301.2,161.2 302.1,161.1 303.1,160.9 304.0,162.3 305.0,161.1 306.0,159.2 307.0,161.2 308.0,160.0 309.0,160.4 310.0,161.3 311.0,159.6 312.0,159.7 313.0,157.4 314.0,158.1 315.0,157.1 316.0,159.1 316.9,159.9 317.9,157.6 318.8,155.3 319.8,154.5 320.8,155.8 321.7,157.8 322.7,158.7 323.7,158.3 324.6,157.9 325.6,156.7 326.5,158.1 327.5,157.3 328.5,158.6 329.4,156.8 330.4,154.3 331.3,154.8 332.3,156.5 333.3,156.6 334.2,156.3 335.2,156.5 336.2,155.9 337.1,153.4 338.1,152.4 339.0,151.8 340.0,151.6 341.0,149.5 341.9,150.6 342.9,151.9 343.8,151.1 344.8,152.3 345.8,153.5 346.7,148.8 347.7,149.1 348.7,152.1 349.6,151.3 350.6,150.8 351.5,150.8 352.5,150.9 353.5,148.5 354.5,148.8 355.5,148.4 356.5,147.9 357.5,146.3 358.5,145.6 359.5,143.3 360.5,142.3 361.5,145.1 362.5,145.1 363.4,142.6 364.4,141.0 365.3,144.4 366.2,145.2 367.2,144.8 368.1,146.1 369.1,143.7 370.0,144.0 370.9,143.3 371.9,142.9 372.8,141.3 373.8,142.6 374.7,140.9 375.6,140.3 376.6,142.7 377.5,140.0 378.5,141.3 379.4,141.5 380.4,144.4 381.3,141.7 382.3,140.1 383.3,138.5 384.2,140.1 385.2,141.2 386.2,140.1 387.1,140.5 388.1,140.7 389.0,141.9 390.0,141.5 390.9,138.7 391.9,137.3 392.8,138.1 393.8,138.5 394.7,138.1 395.6,137.5 396.6,137.8 397.5,136.0 398.5,133.9 399.4,136.9 400.4,135.8 401.3,133.8 402.3,132.7 403.3,134.1 404.2,135.2 405.2,132.7 406.2,132.3 407.1,132.4 408.1,131.9 409.0,131.8 410.0,133.7 411.0,132.8 412.0,132.2 413.0,132.2 414.0,129.6 415.0,129.5 416.0,130.2 416.9,129.8 417.9,128.5 418.8,127.5 419.7,129.1 420.6,126.3 421.6,125.3 422.5,124.7 423.5,125.8 424.4,126.3 425.4,122.6 426.3,124.1 427.3,123.6 428.3,121.6 429.2,120.8 430.2,125.4 431.2,120.8 432.1,121.4 433.1,121.4 434.0,121.4 435.0,121.3 436.0,120.7 436.9,117.9 437.9,120.0 438.9,117.2 439.9,117.8 440.8,120.1 441.8,119.4 442.8,116.6 443.8,117.0 444.6,116.7 445.5,114.1 446.4,116.0 447.3,117.5 448.2,116.7 449.1,118.1 450.0,115.4 451.0,115.6 452.0,116.2 453.0,112.7 454.0,113.6 455.0,110.0 456.0,113.3 457.0,112.4 458.0,112.1 459.0,108.4 460.0,112.2 461.0,111.3 462.0,110.1 463.0,110.5 464.0,111.0 465.0,111.1 466.0,111.2 467.0,110.5 468.0,111.3 469.0,111.7 470.0,108.3 471.0,107.9 471.9,108.6 472.9,107.1 473.8,106.8 474.7,106.5 475.6,107.0 476.6,105.4 477.5,107.3 478.4,103.0 479.4,104.6 480.3,105.3 481.3,102.8 482.2,103.7 483.2,102.8 484.1,101.5 485.1,101.0 486.0,101.1 487.0,102.1 488.0,103.0 489.0,103.7 490.0,101.6 491.0,100.3 492.0,103.1 493.0,103.4 494.0,99.2 495.0,101.7 496.0,98.6 497.0,99.5 498.0,98.3 499.0,98.5 500.0,97.8 501.0,96.5 502.0,96.9 502.6,96.9 503.3,97.4 504.0,98.5 504.6,99.2"/>
<polyline points="78.8,53.9 79.5,55.7 80.3,55.3 81.0,53.1 81.8,49.7 82.5,54.7 83.3,56.6 84.0,52.5 84.8,56.9 85.5,54.5 86.3,59.2 87.0,57.1 87.8,54.8 88.5,56.9 89.3,55.5 90.0,55.2 90.8,55.0 91.5,54.5 92.3,55.7 93.0,56.4 93.8,55.8 94.5,58.1 95.3,53.5 96.0,53.6 96.8,55.8 97.5,53.1 98.3,56.9 99.0,56.6 99.8,55.0 100.5,55.7 101.3,54.1 102.0,52.1 102.8,55.3 103.5,56.4 104.3,55.4 105.0,54.8 105.8,51.2 106.5,52.2 107.3,53.1 108.0,54.4 108.8,56.5 109.5,54.1 110.3,53.0 111.0,55.3 111.8,54.3 112.5,52.0 113.3,55.2 114.0,53.0 114.8,52.7 115.5,51.9 116.3,53.7 117.0,55.3 117.8,53.6 118.5,54.3 119.3,53.2 120.0,57.0 120.8,56.9 121.5,53.8 122.3,54.6 123.0,55.4 123.8,55.0 124.5,53.2 125.3,53.6 126.0,55.0 126.8,55.1 127.5,53.4 128.3,54.8 129.1,53.2 129.8,51.2 130.6,53.9 131.3,55.9 132.1,55.8 132.8,57.2 133.6,58.1 134.3,56.5 135.1,54.7 135.8,55.0 136.6,53.2 137.3,54.6 138.1,55.0 138.8,55.5 139.6,56.9 140.3,53.1 141.1,55.8 141.8,54.9 142.6,56.4 143.3,56.0 144.1,54.4 144.8,56.4 145.6,54.9 146.3,56.1 147.1,55.0 147.8,54.9 148.6,55.6 149.3,58.0 150.1,57.3 150.8,56.2 151.6,57.9 152.3,56.4 153.1,55.6 153.8,54.5 154.6,55.6 155.3,55.9 156.1,55.0 156.8,53.3 157.6,54.9 158.3,55.7 159.1,55.4 159.8,54.6 160.6,54.3 161.3,54.9 162.1,57.2 162.8,56.5 163.6,54.2 164.3,56.2 165.1,55.5 165.8,58.4 166.6,56.4 167.3,56.0 168.1,56.2 168.8,56.4 169.6,56.2 170.3,56.1 171.1,55.9 171.8,55.4 172.6,55.5 173.3,54.7 174.1,55.1 174.8,55.1 175.6,55.4 176.3,55.5 177.1,55.8 177.8,56.5 178.6,56.0 179.3,56.2 180.1,56.5 180.8,56.0 181.6,56.0 182.3,56.5 183.1,54.7 183.8,56.4 184.6,55.9 185.3,52.6 185.6,57.5 185.8,54.9 186.0,52.3 186.2,49.8 186.4,47.2 186.6,44.6 186.8,42.0 187.0,39.5 187.2,37.0 187.4,34.5 187.6,32.0 187.8,29.5 188.0,27.0 188.4,24.1 188.9,21.3 190.0,27.9 190.7,29.3 191.3,31.8 192.0,34.3 193.0,36.4 194.0,39.0 195.0,42.0 195.8,44.4 196.7,47.3 197.5,49.3 198.4,50.1 199.2,51.8 200.1,54.0 201.0,54.5 202.0,56.7 203.0,57.6 204.0,60.3 205.0,62.2 205.9,64.1 206.8,66.1 207.7,67.8 208.6,70.3 209.5,72.9 210.4,75.2 211.3,77.5 212.2,79.1 213.2,81.1 214.1,83.4 215.0,85.1 215.6,87.2 216.2,89.3 216.9,92.0 217.5,93.6 218.2,96.5 218.8,99.4 219.5,101.2 220.1,104.7 220.7,107.4 221.3,109.9 221.9,112.3 222.5,115.5 223.3,117.8 224.2,120.7 225.0,121.9 225.8,124.9 226.7,126.9 227.5,130.0 228.4,131.3 229.3,133.1 230.2,134.4 231.2,135.6 232.1,138.3 233.0,139.4 233.7,142.0 234.3,144.0 235.0,145.7 235.8,146.9 236.7,147.7 237.5,148.3 238.3,149.4 239.2,151.1 240.0,152.5 240.8,152.7 241.6,153.2 242.3,153.9 243.1,154.6 243.9,155.5 244.7,155.7 245.5,156.1 246.2,155.9 247.2,155.6 248.1,154.0 248.9,151.5 249.8,148.4 250.5,151.0 251.2,151.8 252.1,153.3 252.9,154.6 253.8,155.9 254.7,156.1 255.6,155.4 256.6,155.3 257.5,157.2 258.3,157.7 259.2,156.7 260.0,156.4 260.9,156.3 261.9,155.8 262.8,157.1 263.8,157.9 264.7,159.1 265.6,158.8 266.6,160.2 267.5,160.9 268.4,160.1 269.4,161.3 270.3,161.0 271.2,161.2 272.2,161.2 273.1,161.1 274.1,162.7 275.0,163.2 276.0,161.4 277.0,162.4 278.0,161.0 279.0,161.7 280.0,161.2 281.0,162.2 282.0,160.8 283.0,159.4 284.0,160.7 285.0,161.1 286.0,160.3 286.9,161.7 287.9,161.9 288.8,160.5 289.8,160.1 290.8,160.3 291.7,161.8 292.7,162.6 293.7,161.8 294.6,161.1 295.6,159.7 296.5,161.3 297.5,159.5 298.5,162.1 299.5,160.6 300.5,160.2 301.5,159.8 302.5,162.1 303.5,160.0 304.5,160.1 305.5,159.7 306.5,158.8 307.5,159.8 308.4,158.4 309.4,158.9 310.3,158.5 311.2,160.4 312.2,160.7 313.1,161.2 314.1,158.9 315.0,160.0 316.0,161.8 317.0,161.9 317.9,166.3 318.8,170.1 319.5,163.9 320.2,161.6 321.0,159.0 321.9,157.9 322.9,157.7 323.8,158.0 324.7,156.5 325.6,157.3 326.6,156.4 327.5,154.5 328.5,156.9 329.4,157.9 330.4,157.3 331.3,155.3 332.3,156.8 333.3,155.4 334.2,155.6 335.2,154.2 336.2,157.1 337.1,156.4 338.1,156.4 339.0,155.2 340.0,154.4 341.0,155.8 341.9,152.0 342.9,152.2 343.8,150.6 344.8,149.9 345.8,151.1 346.7,151.1 347.7,150.9 348.7,149.7 349.6,151.1 350.6,152.3 351.5,153.0 352.5,150.9 353.5,148.3 354.5,145.6 355.5,143.9 356.5,144.8 357.5,143.9 358.5,147.9 359.5,146.0 360.5,142.3 361.5,141.2 362.5,142.2 363.4,140.8 364.4,143.7 365.3,144.5 366.2,142.9 367.2,143.2 368.1,143.1 369.1,146.2 370.0,147.5 370.9,146.5 371.9,147.1 372.8,142.9 373.8,143.9 374.7,142.4 375.6,142.9 376.6,145.6 377.5,142.6 378.5,144.0 379.4,142.1 380.4,141.7 381.3,140.3 382.3,142.8 383.3,140.1 384.2,140.1 385.2,139.9 386.2,139.7 387.1,140.2 388.1,139.7 389.0,138.0 390.0,139.0 390.9,139.0 391.9,137.9 392.8,138.9 393.8,137.3 394.7,136.7 395.6,137.7 396.6,136.6 397.5,136.3 398.5,135.0 399.4,138.0 400.4,134.7 401.3,136.5 402.3,135.4 403.3,134.8 404.2,138.0 405.2,135.0 406.2,135.0 407.1,134.8 408.1,134.4 409.0,132.5 410.0,135.8 411.0,133.9 412.0,133.7 413.0,133.4 414.0,131.9 415.0,131.1 415.9,133.6 416.9,133.0 417.8,131.8 418.8,132.2 419.7,132.7 420.6,134.0 421.6,134.5 422.5,130.6 423.4,131.5 424.3,131.9 425.2,130.8 426.2,130.8 427.1,131.4 428.0,129.1 429.0,130.8 430.0,129.0 431.0,130.6 432.0,128.6 433.0,128.9 434.0,130.6 435.0,128.6 436.0,130.1 436.9,127.4 437.9,127.4 438.9,125.9 439.9,125.2 440.8,125.8 441.8,126.9 442.8,125.3 443.8,123.3 444.6,124.3 445.5,122.8 446.4,122.9 447.3,120.1 448.2,122.9 449.1,120.2 450.0,121.2 451.0,123.0 452.0,121.6 453.0,119.3 454.0,119.2 455.0,117.5 456.0,117.5 456.9,117.1 457.9,115.4 458.8,115.4 459.8,116.5 460.8,114.4 461.7,115.9 462.7,118.1 463.7,115.7 464.6,116.9 465.6,114.2 466.5,112.2 467.5,113.7 468.5,112.3 469.4,112.0 470.4,111.4 471.3,112.9 472.3,111.8 473.3,111.9 474.2,109.9 475.2,111.9 476.2,111.5 477.1,111.2 478.1,107.2 479.0,108.6 480.0,109.9 481.0,111.1 481.9,106.9 482.9,108.9 483.8,109.1 484.8,110.0 485.8,108.2 486.7,109.4 487.7,112.0 488.7,108.0 489.6,111.5 490.6,110.6 491.5,110.4 492.5,110.7 493.5,110.7 494.5,110.3 495.5,110.6 496.5,112.0 497.5,106.6 498.5,110.4 499.5,108.9 500.5,108.6 501.5,108.5 502.5,108.1 503.4,106.7 504.2,105.2"/>
</g>
<g class="tk">
<text transform="translate(66.0 304.6) scale(1.045 1)" text-anchor="end">0</text>
<text transform="translate(66.0 256.5) scale(1.045 1)" text-anchor="end">20</text>
<text transform="translate(66.0 208.3) scale(1.045 1)" text-anchor="end">40</text>
<text transform="translate(66.0 160.2) scale(1.045 1)" text-anchor="end">60</text>
<text transform="translate(66.0 112.1) scale(1.045 1)" text-anchor="end">80</text>
<text transform="translate(66.0 63.9) scale(1.045 1)" text-anchor="end">100</text>
<text transform="translate(66.0 15.8) scale(1.045 1)" text-anchor="end">120</text>
<text transform="translate(76.2 327) scale(1.045 1)" text-anchor="middle">-10</text>
<text transform="translate(185.4 327) scale(1.045 1)" text-anchor="middle">0</text>
<text transform="translate(293.3 327) scale(1.045 1)" text-anchor="middle">10</text>
<text transform="translate(400.9 327) scale(1.045 1)" text-anchor="middle">20</text>
<text transform="translate(508.2 327) scale(1.045 1)" text-anchor="middle">30</text>
</g>
<g class="lg">
<path d="M105 231.3H146.5" stroke="#000" stroke-width="1.5" stroke-dasharray="5.2 1.9" fill="none"/>
<path d="M105 265H147.5" stroke="#000" stroke-width="1.5" fill="none"/>
<text x="153.3" y="237.0">IVIG - B</text>
<text x="151.6" y="272.0">IVIG - P</text>
</g>
<path d="M186.9 71.6L192.6 83.6L188.5 82.6V107H185.2V82.6L181 83.6Z" fill="#000"/>
<text class="ttl" x="208.8" y="362.8" style="font-size:23.2px;word-spacing:1.1px" xml:space="preserve">time  (minutes)</text>
<text class="ttl" transform="translate(18.9 264.8) rotate(-90)" x="0" y="0" style="word-spacing:2.2px;letter-spacing:0.2px">MABP (% of baseline)</text>
</svg>
</body></html>
